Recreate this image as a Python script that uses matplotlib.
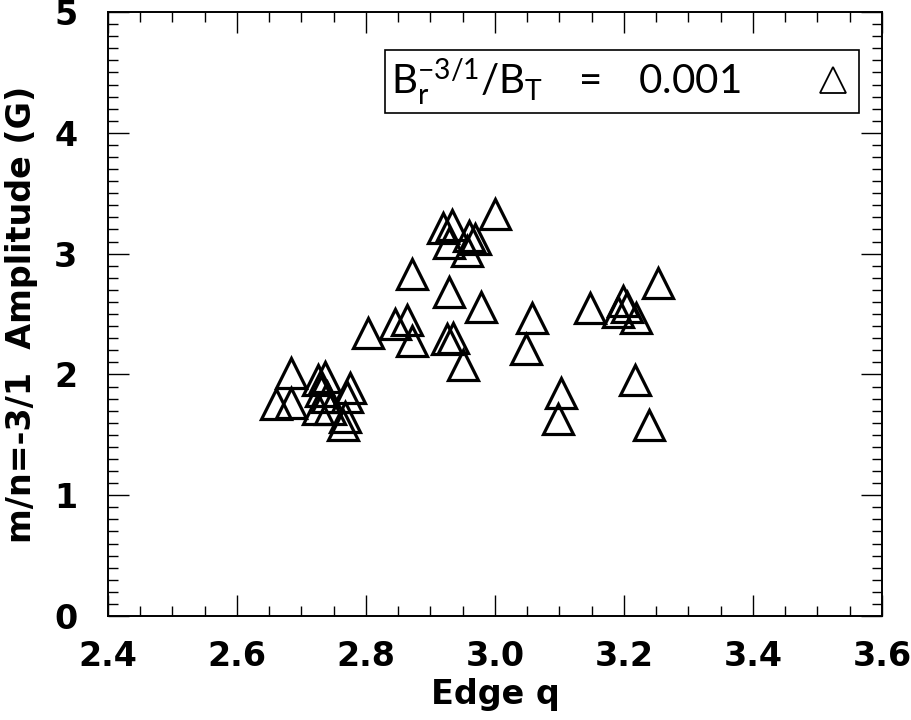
import matplotlib
matplotlib.use('Agg')

import numpy as np
import matplotlib.pyplot as plt
from matplotlib.lines import Line2D
from matplotlib.ticker import MultipleLocator, FormatStrFormatter

# Edge q and m/n=-3/1 amplitude for each shot
edge_q = [2.660, 2.683, 2.683, 2.726, 2.736, 2.731, 2.775, 2.725, 2.744,
          2.770, 2.765, 2.767, 2.740,
          2.803, 2.845, 2.864, 2.871, 2.872, 2.925, 2.935, 2.950, 2.929,
          2.979, 3.000, 2.920, 2.933, 2.928, 2.959, 2.969, 2.956,
          3.057, 3.048, 3.103, 3.097, 3.147, 3.199, 3.204, 3.191, 3.219,
          3.217, 3.238, 3.252]
amplitude = [1.755, 2.01, 1.76, 1.956, 1.98, 1.86, 1.89, 1.71, 1.71,
             1.81, 1.58, 1.65, 1.81,
             2.34, 2.42, 2.45, 2.28, 2.83, 2.29, 2.30, 2.08, 2.68,
             2.56, 3.33, 3.216, 3.24, 3.09, 3.15, 3.12, 3.02,
             2.47, 2.21, 1.85, 1.63, 2.55, 2.61, 2.56, 2.52, 2.47,
             1.95, 1.58, 2.754]
legend_label = r'$\mathregular{B_r^{-3/1}/B_T\ \ =\ \ 0.001}$'

plt.rcParams['font.family'] = 'DejaVu Sans'
plt.rcParams['font.weight'] = 'bold'
plt.rcParams['axes.labelweight'] = 'bold'

fig = plt.figure(figsize=(9.12, 7.2), dpi=100)
ax = fig.add_axes([0.1184, 0.1444, 0.8487, 0.8389])

ax.plot(edge_q, amplitude, linestyle='none', marker='^', markersize=22,
        markerfacecolor='none', markeredgecolor='black', markeredgewidth=2.3)

ax.set_xlim(2.4, 3.6)
ax.set_ylim(0, 5)
ax.xaxis.set_major_locator(MultipleLocator(0.2))
ax.xaxis.set_minor_locator(MultipleLocator(0.05))
ax.yaxis.set_major_locator(MultipleLocator(1))
ax.yaxis.set_minor_locator(MultipleLocator(0.1))
ax.xaxis.set_major_formatter(FormatStrFormatter('%.1f'))
ax.tick_params(which='both', direction='in', top=True, right=True,
               labelsize=24)
ax.tick_params(axis='x', which='major', pad=17)
ax.tick_params(axis='y', which='major', pad=22)
ax.tick_params(which='major', length=15, width=1.0)
ax.tick_params(which='minor', length=7, width=1.0)
for s in ax.spines.values():
    s.set_linewidth(1.4)

ax.set_xlabel('Edge q', fontsize=24, labelpad=4)
ax.set_ylabel('m/n=-3/1  Amplitude (G)', fontsize=24, labelpad=12)

handle = Line2D([], [], linestyle='none', marker='^', markersize=19,
                markerfacecolor='none', markeredgecolor='black',
                markeredgewidth=1.3)
leg = ax.legend([handle], [legend_label], loc='upper right',
                bbox_to_anchor=(0.9705, 0.9365), markerfirst=False,
                fancybox=False, framealpha=1, edgecolor='black',
                borderpad=0.15, handlelength=1.0, handletextpad=1.8,
                borderaxespad=0,
                prop={'family': 'Lato', 'weight': 'normal', 'size': 29})
leg.get_frame().set_linewidth(1.2)

fig.savefig('out.png', dpi=100)
